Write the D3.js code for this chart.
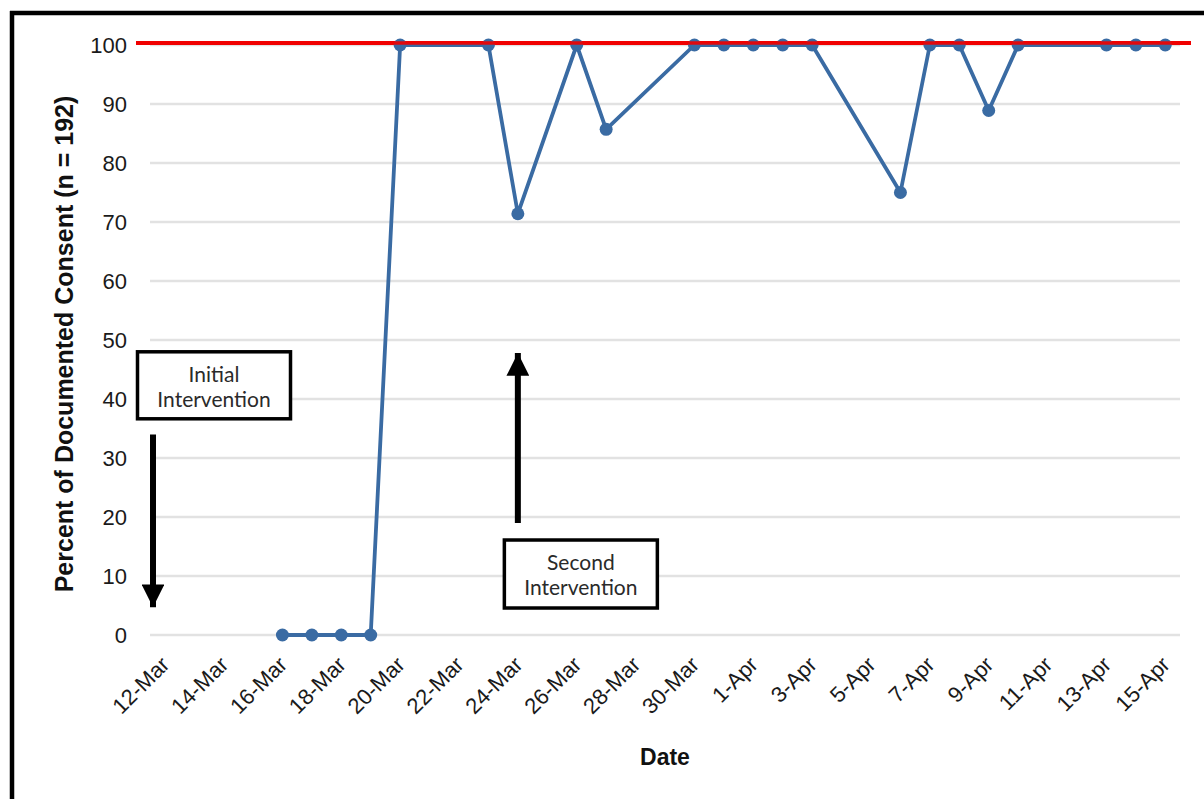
<!DOCTYPE html>
<html>
<head>
<meta charset="utf-8">
<script src="https://cdn.jsdelivr.net/npm/d3@7"></script>
<style>
  html, body { margin: 0; padding: 0; background: #fff; }
  svg { display: block; }
</style>
</head>
<body>
<svg id="chart" width="1204" height="799"></svg>
<script>
// Daily percentage of documented consent
const dates = ["16-Mar","17-Mar","18-Mar","19-Mar","20-Mar","23-Mar","24-Mar","26-Mar","27-Mar",
  "30-Mar","31-Mar","1-Apr","2-Apr","3-Apr","6-Apr","7-Apr","8-Apr","9-Apr","10-Apr",
  "13-Apr","14-Apr","15-Apr"];
const consent = [0, 0, 0, 0, 100, 100, 71.4, 100, 85.7,
  100, 100, 100, 100, 100, 75, 100, 100, 88.9, 100,
  100, 100, 100];
const yTicks = [0, 10, 20, 30, 40, 50, 60, 70, 80, 90, 100];
const target = 100;
const annotations = [
  { lines: ["Initial", "Intervention"], date: "12-Mar" },
  { lines: ["Second", "Intervention"], date: "24-Mar" }
];

const fmt = d3.timeFormat("%-d-%b");
const days = d3.timeDay.range(new Date(2020, 2, 12), new Date(2020, 3, 16)).map(fmt);
const tickLabels = days.filter((d, i) => i % 2 === 0);

const svg = d3.select("#chart");
const plot = { left: 150, right: 1180, top: 45, bottom: 635 };

const x = d3.scaleBand().domain(days).range([plot.left, plot.right]).padding(0);
const xc = d => x(d) + x.bandwidth() / 2;
const y = d3.scaleLinear().domain([0, 100]).range([plot.bottom, plot.top]);

// frame edges
svg.append("line").attr("x1", 12).attr("x2", 12).attr("y1", 11).attr("y2", 799)
  .attr("stroke", "#000").attr("stroke-width", 4.5);
svg.append("line").attr("x1", 10).attr("x2", 1204).attr("y1", 13).attr("y2", 13)
  .attr("stroke", "#000").attr("stroke-width", 4.5);

// horizontal gridlines
svg.append("g").selectAll("line").data(yTicks).join("line")
  .attr("x1", plot.left).attr("x2", plot.right)
  .attr("y1", d => y(d)).attr("y2", d => y(d))
  .attr("stroke", "#e2e2e2").attr("stroke-width", 2.5);

// y axis labels
const yAxis = svg.append("g")
  .attr("transform", `translate(${plot.left},0)`)
  .call(d3.axisLeft(y).tickValues(yTicks).tickSize(0).tickPadding(23));
yAxis.select(".domain").remove();
yAxis.selectAll("text")
  .attr("font-family", "'Liberation Sans', Arial, sans-serif")
  .attr("font-size", 22).attr("fill", "#1a1a1a");

// x axis labels, rotated
const xAxis = svg.append("g")
  .attr("transform", `translate(0,${plot.bottom})`)
  .call(d3.axisBottom(x).tickValues(tickLabels).tickSize(0).tickPadding(0));
xAxis.select(".domain").remove();
xAxis.selectAll("text")
  .attr("font-family", "'Liberation Sans', Arial, sans-serif")
  .attr("font-size", 22).attr("fill", "#1a1a1a")
  .attr("text-anchor", "end")
  .attr("dy", null).attr("y", 0)
  .attr("transform", "translate(6,31) rotate(-45)");

// target line
svg.append("line")
  .attr("x1", plot.left - 14).attr("x2", plot.right + 11)
  .attr("y1", y(target) - 2).attr("y2", y(target) - 2)
  .attr("stroke", "#f00000").attr("stroke-width", 4);

// consent series
const pts = dates.map((d, i) => ({ d, v: consent[i] }));
const lineColor = "#3a6ba3";
svg.append("path").datum(pts)
  .attr("fill", "none").attr("stroke", lineColor).attr("stroke-width", 3.8)
  .attr("stroke-linejoin", "round")
  .attr("d", d3.line().x(p => xc(p.d)).y(p => y(p.v)));
svg.append("g").selectAll("circle").data(pts).join("circle")
  .attr("cx", p => xc(p.d)).attr("cy", p => y(p.v)).attr("r", 6.5)
  .attr("fill", lineColor);

// redraw the target line over the markers at 100
svg.append("line")
  .attr("x1", plot.left - 14).attr("x2", plot.right + 11)
  .attr("y1", y(target) - 2).attr("y2", y(target) - 2)
  .attr("stroke", "#f00000").attr("stroke-width", 3.5).attr("opacity", 0.9);

// axis titles
svg.append("text")
  .attr("transform", `translate(73,${(plot.top + plot.bottom) / 2 + 4}) rotate(-90)`)
  .attr("text-anchor", "middle")
  .attr("font-family", "'Liberation Sans', Arial, sans-serif")
  .attr("font-weight", "bold").attr("font-size", 25).attr("fill", "#111")
  .text("Percent of Documented Consent (n = 192)");
svg.append("text")
  .attr("x", 665).attr("y", 765)
  .attr("text-anchor", "middle")
  .attr("font-family", "'Liberation Sans', Arial, sans-serif")
  .attr("font-weight", "bold").attr("font-size", 23).attr("fill", "#111")
  .text("Date");

// arrow marker
svg.append("defs").append("marker")
  .attr("id", "head").attr("viewBox", "0 0 10 10")
  .attr("refX", 10).attr("refY", 5)
  .attr("markerWidth", 3.8).attr("markerHeight", 3.8)
  .attr("markerUnits", "strokeWidth")
  .attr("orient", "auto")
  .append("path").attr("d", "M0,0 L10,5 L0,10 Z").attr("fill", "#000");

// intervention callouts
function callout(cx, top, w, h, lines) {
  const g = svg.append("g");
  g.append("rect").attr("x", cx - w / 2).attr("y", top).attr("width", w).attr("height", h)
    .attr("fill", "#fff").attr("stroke", "#000").attr("stroke-width", 3.5);
  g.append("text")
    .attr("text-anchor", "middle")
    .attr("font-family", "Lato, 'Open Sans', sans-serif")
    .attr("font-size", 21).attr("fill", "#2a2a2a")
    .selectAll("tspan").data(lines).join("tspan")
    .attr("x", cx).attr("y", (d, i) => top + 30 + i * 25)
    .text(d => d);
}

const a0 = annotations[0], a1 = annotations[1];
callout(x(a0.date) + 64, y(48), 153, 67, a0.lines);
svg.append("line")
  .attr("x1", x(a0.date) + 3).attr("x2", x(a0.date) + 3)
  .attr("y1", y(34)).attr("y2", y(4.7))
  .attr("stroke", "#000").attr("stroke-width", 6).attr("marker-end", "url(#head)");

callout(xc(a1.date) + 63, y(16.1), 153, 68, a1.lines);
svg.append("line")
  .attr("x1", xc(a1.date)).attr("x2", xc(a1.date))
  .attr("y1", y(19)).attr("y2", y(47.8))
  .attr("stroke", "#000").attr("stroke-width", 6).attr("marker-end", "url(#head)");
</script>
</body>
</html>
